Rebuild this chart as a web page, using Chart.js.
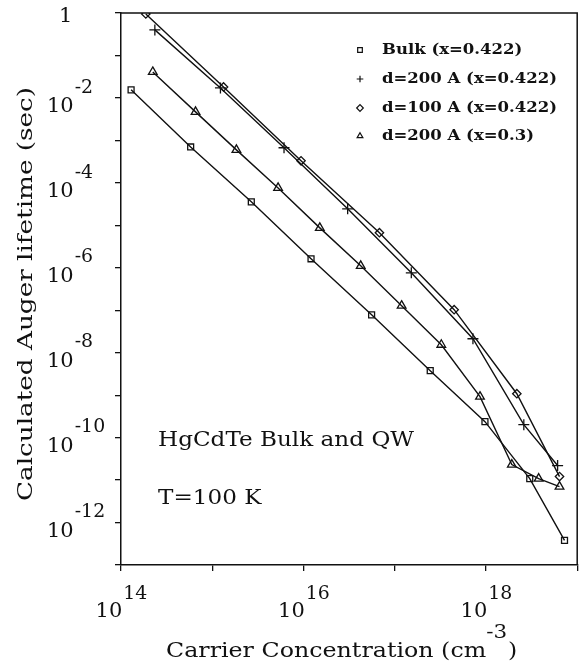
<!DOCTYPE html>
<html>
<head>
<meta charset="utf-8">
<script src="https://cdn.jsdelivr.net/npm/chart.js@4.4.1/dist/chart.umd.min.js"></script>
<style>
html,body{margin:0;padding:0;background:#fff;}
#wrap{width:584px;height:671px;position:relative;}
</style>
</head>
<body>
<div id="wrap"><canvas id="c" width="584" height="671"></canvas></div>
<script>
// ---- data ----
const seriesNames = ['Bulk (x=0.422)', 'd=200 A (x=0.422)', 'd=100 A (x=0.422)', 'd=200 A (x=0.3)'];

const bulkX = [1.29e14, 5.8e14, 2.68e15, 1.21e16, 5.58e16, 2.45e17, 9.75e17, 3.02e18, 7.26e18];
const bulkY = [1.55e-2, 7.0e-4, 3.57e-5, 1.63e-6, 7.8e-8, 3.77e-9, 2.38e-10, 1.08e-11, 3.8e-13];

const qw200X = [2.35e14, 1.23e15, 6.12e15, 3.05e16, 1.52e17, 7.2e17, 2.6e18, 6.1e18];
const qw200Y = [0.40, 1.72e-2, 6.7e-4, 2.45e-5, 7.6e-7, 2.13e-8, 2.02e-10, 2.2e-11];

const qw100X = [1.87e14, 1.33e15, 9.4e15, 6.8e16, 4.48e17, 2.18e18, 6.4e18];
const qw100Y = [0.95, 1.81e-2, 3.3e-4, 6.7e-6, 1.03e-7, 1.08e-9, 1.21e-11];

const qw03X = [2.23e14, 6.56e14, 1.84e15, 5.27e15, 1.51e16, 4.24e16, 1.19e17, 3.24e17, 8.6e17, 1.92e18, 3.78e18, 6.4e18];
const qw03Y = [4.09e-2, 4.69e-3, 5.98e-4, 7.6e-5, 8.7e-6, 1.11e-6, 1.28e-7, 1.54e-8, 9.2e-10, 2.32e-11, 1.08e-11, 7.0e-12];

const xTickExps = [14, 15, 16, 17, 18, 19];
const xLabelExps = [14, 16, 18];
const yTickExps = [0, -1, -2, -3, -4, -5, -6, -7, -8, -9, -10, -11, -12, -13];
const yLabelExps = [0, -2, -4, -6, -8, -10, -12];

const xTitle = 'Carrier Concentration (cm';
const xTitleSup = '-3';
const xTitleEnd = ')';
const yTitle = 'Calculated Auger lifetime (sec)';
const notes = ['HgCdTe Bulk and QW', 'T=100 K'];

// ---- build ----
function pts(xs, ys){ return xs.map((x,i)=>({x:x, y:ys[i]})); }
const FONT = '"DejaVu Serif", "Liberation Serif", serif';

const styles = [
  {pointStyle:'rect', radius:4.2},
  {pointStyle:'cross', radius:5.5},
  {pointStyle:'rectRot', radius:4.2},
  {pointStyle:'triangle', radius:5}
];
const dataArr = [pts(bulkX,bulkY), pts(qw200X,qw200Y), pts(qw100X,qw100Y), pts(qw03X,qw03Y)];

const datasets = dataArr.map((d,i)=>({
  label: seriesNames[i],
  data: d,
  borderColor:'#111',
  backgroundColor:'rgba(0,0,0,0)',
  borderWidth:1.4,
  pointStyle: styles[i].pointStyle,
  pointRadius: styles[i].radius,
  pointBorderWidth:1.3,
  pointBorderColor:'#111',
  pointBackgroundColor:'rgba(0,0,0,0)',
  tension:0,
  fill:false
}));

// draw text stretched horizontally by factor sx; returns drawn width
function sText(ctx, text, x, y, font, sx){
  ctx.save();
  ctx.font = font;
  ctx.translate(x, y);
  ctx.scale(sx, 1);
  ctx.textAlign = 'left';
  ctx.fillText(text, 0, 0);
  const w = ctx.measureText(text).width * sx;
  ctx.restore();
  return w;
}
function mText(ctx, text, font, sx){
  ctx.save(); ctx.font = font; const w = ctx.measureText(text).width * sx; ctx.restore(); return w;
}

const decorPlugin = {
  id:'decor',
  afterDraw(chart){
    const ctx = chart.ctx;
    const xs = chart.scales.x, ys = chart.scales.y;
    const ca = chart.chartArea;
    ctx.save();
    // frame top & right
    ctx.strokeStyle = '#111';
    ctx.lineWidth = 1.5;
    ctx.beginPath();
    ctx.moveTo(ca.left, ca.top); ctx.lineTo(ca.right, ca.top); ctx.lineTo(ca.right, ca.bottom);
    ctx.stroke();

    ctx.fillStyle = '#111';
    ctx.textBaseline = 'middle';
    const F20 = '20px ' + FONT, F18 = '18px ' + FONT;
    // x tick labels
    xLabelExps.forEach(e=>{
      const px = xs.getPixelForValue(Math.pow(10,e));
      const w1 = mText(ctx, '10', F20, 1.05);
      const w2 = mText(ctx, String(e), F18, 1.05);
      const start = px - (w1+w2)/2;
      sText(ctx, '10', start, 612, F20, 1.05);
      sText(ctx, String(e), start + w1 + 1, 594, F18, 1.05);
    });
    // y tick labels
    yLabelExps.forEach(e=>{
      const py = ys.getPixelForValue(Math.pow(10,e));
      if (e === 0){
        sText(ctx, '1', 59, py + 4, F20, 1.05);
      } else {
        const w1 = sText(ctx, '10', 47, py + 9, F20, 1.05);
        sText(ctx, String(e), 47 + w1 + 1, py - 10, F18, 1.05);
      }
    });
    // x title (target span ~166..523)
    const F21 = '21px ' + FONT, F19 = '19px ' + FONT;
    const sxT = 1.13;
    let tx = 166;
    tx += sText(ctx, xTitle, tx, 652, F21, sxT);
    tx += sText(ctx, xTitleSup, tx, 633, F19, sxT);
    sText(ctx, xTitleEnd, tx + 1, 652, F21, sxT);
    // y title (target span ~75..512)
    ctx.save();
    ctx.translate(27, 294);
    ctx.rotate(-Math.PI/2);
    const wy = mText(ctx, yTitle, F21, 1.25);
    sText(ctx, yTitle, -wy/2, 0, F21, 1.25);
    ctx.restore();
    // notes
    sText(ctx, notes[0], 158, 441, F21, 1.1);
    sText(ctx, notes[1], 158, 499, F21, 1.1);
    // legend
    const rows = [50, 79, 108, 136];
    chart.data.datasets.forEach((ds,i)=>{
      ctx.save();
      ctx.strokeStyle = '#111';
      ctx.fillStyle = 'rgba(0,0,0,0)';
      ctx.lineWidth = 1.2;
      Chart.helpers.drawPoint(ctx, {pointStyle: ds.pointStyle, radius: 3.3, rotation:0, borderWidth:1.2}, 360, rows[i]);
      ctx.restore();
      ctx.fillStyle = '#111';
      sText(ctx, ds.label, 382, rows[i], 'bold 15px ' + FONT, 1.1);
    });
    ctx.restore();
  }
};

new Chart(document.getElementById('c'), {
  type:'line',
  data:{datasets},
  options:{
    responsive:false,
    animation:false,
    layout:{padding:{top:13, right:4, left:0, bottom:0}},
    plugins:{legend:{display:false}, tooltip:{enabled:false}},
    scales:{
      x:{
        type:'logarithmic',
        min:1e14, max:1e19,
        afterBuildTicks(s){ s.ticks = xTickExps.map(e=>({value:Math.pow(10,e)})); },
        afterFit(s){ s.height = 671 - 565; },
        ticks:{display:false},
        grid:{drawOnChartArea:false, drawTicks:true, tickLength:6, color:'#111', lineWidth:1.3},
        border:{display:true, color:'#111', width:1.5}
      },
      y:{
        type:'logarithmic',
        min:1e-13, max:1,
        afterBuildTicks(s){ s.ticks = yTickExps.map(e=>({value:Math.pow(10,e)})); },
        afterFit(s){ s.width = 121; },
        ticks:{display:false},
        grid:{drawOnChartArea:false, drawTicks:true, tickLength:6, color:'#111', lineWidth:1.3},
        border:{display:true, color:'#111', width:1.5}
      }
    }
  },
  plugins:[decorPlugin]
});
</script>
</body>
</html>
